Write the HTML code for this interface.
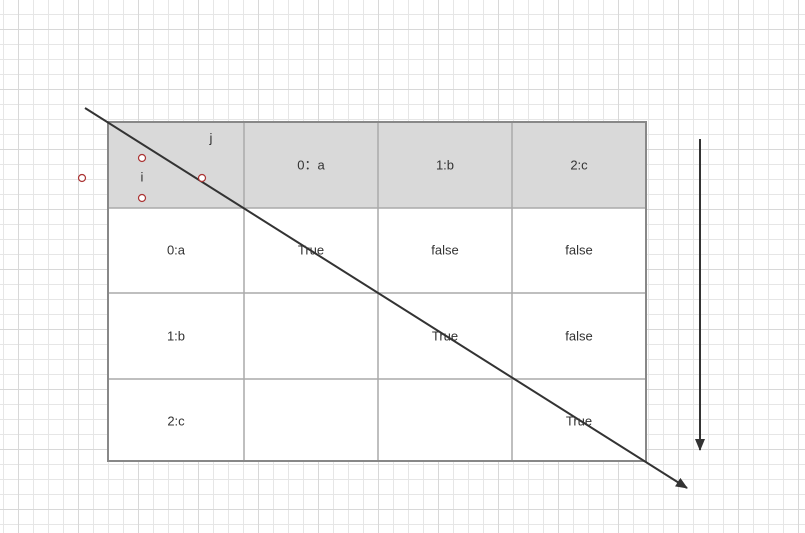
<!DOCTYPE html>
<html><head><meta charset="utf-8"><style>
html,body{margin:0;padding:0;background:#fff}
svg{display:block;font-family:"Liberation Sans","Noto Sans CJK SC",sans-serif}
</style></head><body>
<svg width="805" height="533">
<defs>
<pattern id="g1" x="3" y="14" width="15" height="15" patternUnits="userSpaceOnUse"><path d="M0 0.5H15M0.5 0V15" stroke="#e6e6e6" stroke-width="1" fill="none"/></pattern>
<pattern id="g2" x="18" y="29" width="60" height="60" patternUnits="userSpaceOnUse"><path d="M0 0.5H60M0.5 0V60" stroke="#d8d8d8" stroke-width="1" fill="none"/></pattern>
<marker id="ah" markerWidth="12" markerHeight="10" refX="11" refY="5" orient="auto" markerUnits="userSpaceOnUse"><path d="M0 0L12 5L0 10z" fill="#333"/></marker>
</defs>
<rect width="805" height="533" fill="url(#g1)"/>
<rect width="805" height="533" fill="url(#g2)"/>
<g>
<rect x="108" y="122" width="538" height="86" fill="#d9d9d9"/>
<rect x="108" y="208" width="538" height="253" fill="#fff"/>
<g stroke="#aaa" stroke-width="1.5">
<line x1="244" y1="122" x2="244" y2="461"/><line x1="378" y1="122" x2="378" y2="461"/><line x1="512" y1="122" x2="512" y2="461"/>
<line x1="108" y1="208" x2="646" y2="208"/><line x1="108" y1="293" x2="646" y2="293"/><line x1="108" y1="379" x2="646" y2="379"/>
</g>
<rect x="108" y="122" width="538" height="339" fill="none" stroke="#888" stroke-width="2"/>
</g>
<g font-size="13" fill="#333" text-anchor="middle" dominant-baseline="central">
<text x="211" y="138">j</text>
<text x="142" y="177">i</text>
<text x="311" y="165">0：a</text>
<text x="445" y="165">1:b</text>
<text x="579" y="165">2:c</text>
<text x="176" y="250">0:a</text>
<text x="176" y="336">1:b</text>
<text x="176" y="421">2:c</text>
<text x="311" y="250">True</text>
<text x="445" y="250">false</text>
<text x="579" y="250">false</text>
<text x="445" y="336">True</text>
<text x="579" y="336">false</text>
<text x="579" y="421">True</text>
</g>
<line x1="85" y1="108" x2="687" y2="488" stroke="#333" stroke-width="2" marker-end="url(#ah)"/>
<line x1="700" y1="139" x2="700" y2="450" stroke="#333" stroke-width="2" marker-end="url(#ah)"/>
<g fill="#fff" stroke="#a33" stroke-width="1.2">
<circle cx="82" cy="178" r="3.5"/>
<circle cx="142" cy="158" r="3.5"/>
<circle cx="142" cy="198" r="3.5"/>
<circle cx="202" cy="178" r="3.5"/>
</g>
</svg>
</body></html>
